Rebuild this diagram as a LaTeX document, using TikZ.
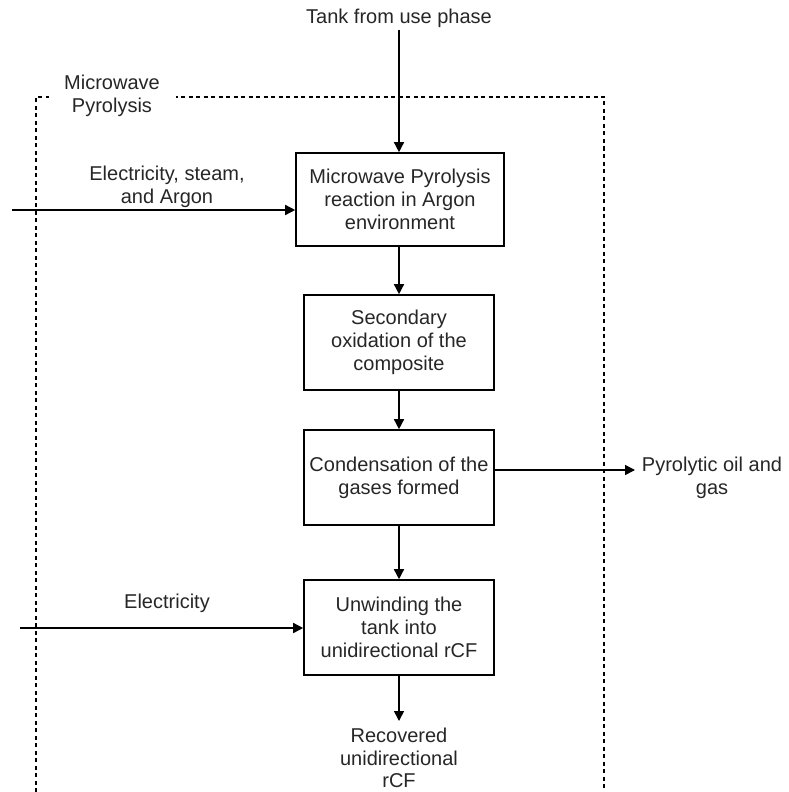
\documentclass[tikz,border=0pt]{standalone}
\usepackage{fontspec}
\setmainfont{Liberation Sans}
\usetikzlibrary{arrows.meta}
\begin{document}
\begin{tikzpicture}[x=1pt,y=-1pt,
  every node/.style={font=\fontsize{20}{22.7}\selectfont, align=center, inner sep=0pt, text=black!85},
  procbox/.style={draw, line width=1.6pt, minimum width=190pt, minimum height=95pt},
  flow/.style={line width=1.5pt, -{Triangle[length=10pt,width=10pt]}},
  boundary/.style={line width=1.2pt, dash pattern=on 4pt off 3.5pt}]
\useasboundingbox (0,0) rectangle (788,792);

% system boundary (open at the bottom)
\draw[boundary] (36,792) -- (36,97) -- (604,97) -- (604,792);
\node[fill=white, minimum width=127pt, minimum height=30pt] (mwlabel) at (112,96) {Microwave\\Pyrolysis};

% process steps
\node[procbox, minimum width=208pt, minimum height=93pt] (react) at (400,199.5)
  {Microwave Pyrolysis\\reaction in Argon\\environment};
\node[procbox] (oxid) at (399,342.5) {Secondary\\oxidation of the\\composite};
\node[procbox] (cond) at (399,477.5) {Condensation of the\\gases formed};
\node[procbox] (unwind) at (399,627.5) {Unwinding the\\tank into\\unidirectional rCF};

% external inputs and outputs
\node (tank) at (399,18) {Tank from use phase};
\node (inlbl) at (167,187) {Electricity, steam,\\and Argon};
\node (eleclbl) at (167,603) {Electricity};
\node (pyro) at (712,478) {Pyrolytic oil and\\gas};
\node (rcf) at (399,758) {Recovered\\unidirectional\\rCF};

\coordinate (tanktop) at (399,30);
\coordinate (inflow) at (12,210);
\coordinate (elecin) at (20,628);
\coordinate (pyroend) at (635,470);
\coordinate (rcfend) at (399,721);

% connectors
\draw[flow] (tanktop) -- (react.north -| tanktop);
\draw[flow] (inflow) -- (inflow -| react.west);
\draw[flow] (react.south -| oxid.north) -- (oxid.north);
\draw[flow] (oxid.south) -- (cond.north);
\draw[flow] (cond.south) -- (unwind.north);
\draw[flow] (pyroend -| cond.east) -- (pyroend);
\draw[flow] (elecin) -- (elecin -| unwind.west);
\draw[flow] (unwind.south) -- (rcfend);
\end{tikzpicture}
\end{document}
